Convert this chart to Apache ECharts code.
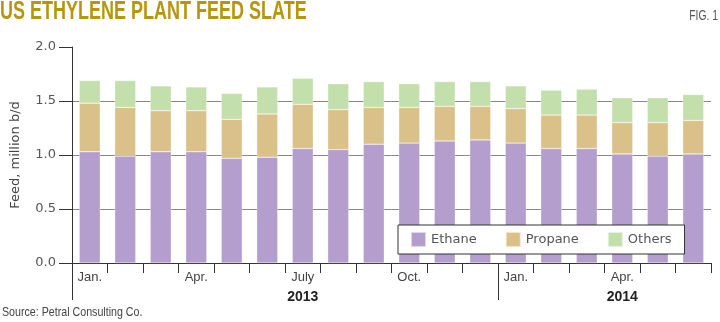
<!DOCTYPE html>
<html>
<head>
<meta charset="utf-8">
<script src="https://cdn.jsdelivr.net/npm/echarts@6/dist/echarts.min.js"></script>
<style>
html,body{margin:0;padding:0;background:#fff;}
#chart{width:720px;height:322px;}
</style>
</head>
<body>
<div id="chart"></div>
<script>
var months = ['Jan. 2013','Feb. 2013','Mar. 2013','Apr. 2013','May 2013','Jun. 2013','Jul. 2013','Aug. 2013','Sep. 2013','Oct. 2013','Nov. 2013','Dec. 2013','Jan. 2014','Feb. 2014','Mar. 2014','Apr. 2014','May 2014','Jun. 2014'];
var monthLabels = ['Jan.','','','Apr.','','','July','','','Oct.','','','Jan.','','','Apr.','',''];
var yearLabels = ['','','','','','','2013','','','','','','','','','2014','',''];
var yearStarts = [0, 12];
var ethane  = [1.03,0.99,1.03,1.03,0.97,0.98,1.06,1.05,1.10,1.11,1.13,1.14,1.11,1.06,1.06,1.01,0.99,1.01];
var propane = [0.45,0.45,0.38,0.38,0.36,0.40,0.41,0.37,0.34,0.33,0.32,0.31,0.32,0.31,0.31,0.29,0.31,0.31];
var others  = [0.21,0.25,0.23,0.22,0.24,0.25,0.24,0.24,0.24,0.22,0.23,0.23,0.21,0.23,0.24,0.23,0.23,0.24];

var yearLabelPos = [];
yearLabels.forEach(function(l, i){ if (l) yearLabelPos.push(i + 0.5); });

var chart = echarts.init(document.getElementById('chart'), null, {renderer:'canvas'});
chart.setOption({
  animation: false,
  backgroundColor: '#fff',
  graphic: [
    {type: 'text', left: 0, top: 0, scaleX: 0.72, originX: 0,
     style: {text: 'US ETHYLENE PLANT FEED SLATE', fill: '#b8950e', font: 'bold 25px "Liberation Sans"'}},
    {type: 'text', right: 2, top: 9, scaleX: 0.74,
     style: {text: 'FIG. 1', fill: '#555', font: '14px "Liberation Sans"'}},
    {type: 'text', left: 2, top: 306, scaleX: 0.82,
     style: {text: 'Source: Petral Consulting Co.', fill: '#444', font: '13px "Liberation Sans"'}}
  ],
  legend: {
    left: 398, top: 225,
    padding: [6, 13, 6, 12],
    borderColor: '#333', borderWidth: 1, backgroundColor: '#fff',
    itemWidth: 15, itemHeight: 15, itemGap: 28,
    icon: 'rect',
    textStyle: {color: '#555', fontSize: 13, fontFamily: 'DejaVu Sans'},
    data: ['Ethane','Propane','Others']
  },
  grid: {left: 72, right: 9, top: 47, bottom: 59, containLabel: false},
  xAxis: [
    {type: 'category', data: months, position: 'bottom', boundaryGap: true,
     axisLine: {show: true, lineStyle: {color: '#333', width: 1}},
     axisTick: {show: true, length: 10, lineStyle: {color: '#333'}},
     axisLabel: {interval: 0, margin: 8, color: '#444', fontSize: 13, fontFamily: 'Liberation Sans',
                 formatter: function(v, i){ return monthLabels[i]; }},
     splitLine: {show: false}},
    {type: 'value', min: 0, max: months.length, position: 'bottom',
     axisLine: {show: false},
     axisTick: {show: true, length: 37, lineStyle: {color: '#333'}, customValues: yearStarts},
     axisLabel: {show: true, margin: 27, color: '#222', fontSize: 14, fontWeight: 'bold', fontFamily: 'Liberation Sans',
                 customValues: yearLabelPos,
                 formatter: function(v){ return yearLabels[Math.floor(v)] || ''; }},
     splitLine: {show: false}}
  ],
  yAxis: {
    type: 'value', min: 0, max: 2, interval: 0.5,
    name: 'Feed, million b/d', nameLocation: 'middle', nameGap: 50,
    nameTextStyle: {color: '#444', fontSize: 13, fontFamily: 'DejaVu Sans'},
    axisLine: {show: true, lineStyle: {color: '#333'}},
    axisTick: {show: true, length: 13, lineStyle: {color: '#333'}},
    axisLabel: {margin: 16, color: '#555', fontSize: 13, fontFamily: 'DejaVu Sans',
                formatter: function(v){ return v.toFixed(1); }},
    splitLine: {show: true, lineStyle: {color: ['#888','#888','#888','#888','rgba(0,0,0,0)'], width: 1}}
  },
  series: [
    {name: 'Ethane', type: 'bar', stack: 'feed', barWidth: 21, data: ethane,
     itemStyle: {color: '#b39ecd', borderColor: 'rgba(255,255,255,0.6)', borderWidth: 0.5}},
    {name: 'Propane', type: 'bar', stack: 'feed', barWidth: 21, data: propane,
     itemStyle: {color: '#d9c189', borderColor: 'rgba(255,255,255,0.6)', borderWidth: 0.5}},
    {name: 'Others', type: 'bar', stack: 'feed', barWidth: 21, data: others,
     itemStyle: {color: '#c3e0ac', borderColor: 'rgba(255,255,255,0.6)', borderWidth: 0.5}}
  ]
});
</script>
</body>
</html>
